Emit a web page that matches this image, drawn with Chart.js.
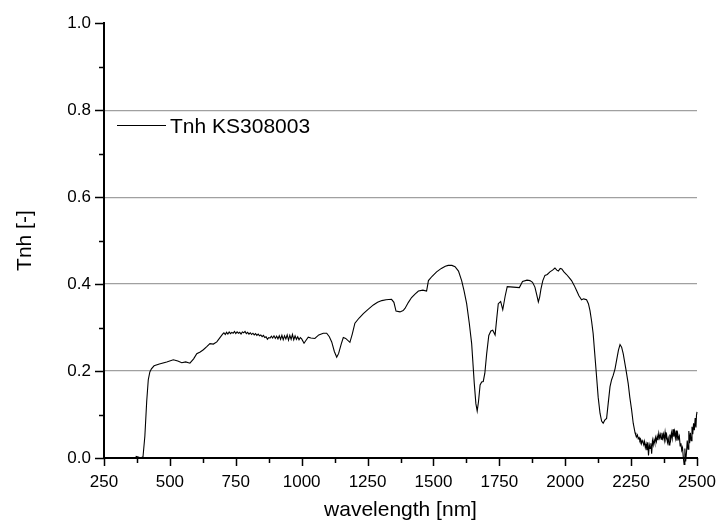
<!DOCTYPE html>
<html>
<head>
<meta charset="utf-8">
<script src="https://cdn.jsdelivr.net/npm/chart.js@4.4.0/dist/chart.umd.min.js"></script>
<style>
  body { margin: 0; background: #fff; }
  #wrap { width: 717px; height: 526px; }
</style>
</head>
<body>
<div id="wrap"><canvas id="tnhChart"></canvas></div>
<script>
// wavelength [nm]
const wavelengths = [
  370, 380, 390, 398, 405, 412, 418, 424, 430, 440, 460, 488, 513, 530, 545, 560, 576, 590,
  602, 615, 627, 640, 652, 665, 678, 690,
  700, 705, 710, 715, 720, 725, 730, 735, 740, 745, 750, 755, 760, 765, 770, 775, 780, 785,
  790, 795, 800, 805, 810, 815, 820, 825, 830, 835, 840, 845, 850, 855, 860, 865, 870, 875,
  880, 885, 890, 895, 900, 905, 910, 915, 920, 925, 930, 935, 940, 945, 950, 955, 960, 965,
  970, 975, 980, 985, 990, 995, 1000,
  1009, 1018, 1025, 1035, 1050, 1065, 1082, 1095, 1105, 1114, 1124, 1133, 1140, 1150, 1158,
  1167, 1183, 1192, 1202, 1218, 1234, 1252, 1272, 1288, 1304, 1320, 1341, 1350, 1358, 1373,
  1385, 1392, 1405, 1417, 1430, 1443, 1460, 1474, 1481, 1495, 1512, 1530, 1545, 1556, 1570,
  1582, 1595, 1607, 1616, 1626, 1636, 1645, 1655, 1661, 1666, 1671, 1677, 1683, 1689, 1695,
  1702, 1710, 1718, 1725, 1734, 1740, 1746, 1755, 1763, 1772, 1780, 1803, 1826, 1838, 1855,
  1866, 1876, 1885, 1892, 1898, 1903, 1908, 1915, 1923, 1932, 1942, 1952, 1961, 1968, 1974,
  1981, 1987, 1995, 2005, 2015, 2024, 2034, 2043, 2052, 2062, 2070, 2081, 2088, 2094, 2100,
  2106, 2112, 2119, 2125, 2132, 2138, 2144, 2150, 2157, 2163, 2170, 2176, 2182, 2189, 2195,
  2202, 2208, 2214, 2220, 2230, 2239, 2245, 2252, 2258,
  2265, 2268, 2271, 2274, 2277, 2280, 2283, 2286, 2289, 2292, 2295, 2298, 2301, 2304, 2307,
  2310, 2313, 2316, 2319, 2322, 2325, 2328, 2331, 2334, 2337, 2340, 2343, 2346, 2349, 2352,
  2355, 2358, 2361, 2364, 2367, 2370, 2373, 2376, 2379, 2382, 2385, 2388, 2391, 2394, 2397,
  2400, 2403, 2406, 2409, 2412, 2415, 2418, 2421, 2424, 2427, 2430, 2433, 2436, 2439, 2442,
  2445, 2448, 2451, 2454, 2457, 2460, 2463, 2466, 2469, 2472, 2475, 2478, 2481, 2484, 2487,
  2490, 2493, 2496, 2498, 2500
];

// Tnh KS308003
const tnh = [
  0.004, 0.002, 0.000, 0.003, 0.050, 0.130, 0.180, 0.198, 0.205, 0.212, 0.216, 0.221, 0.226, 0.223, 0.219, 0.221, 0.218, 0.228,
  0.240, 0.244, 0.249, 0.256, 0.263, 0.262, 0.267, 0.277,
  0.285, 0.288, 0.284, 0.289, 0.285, 0.290, 0.286, 0.289, 0.287, 0.291, 0.286, 0.290, 0.287, 0.289, 0.285, 0.290, 0.288, 0.291,
  0.286, 0.289, 0.285, 0.288, 0.284, 0.287, 0.283, 0.286, 0.282, 0.285, 0.281, 0.283, 0.279, 0.282, 0.277, 0.279, 0.273, 0.277,
  0.276, 0.280, 0.276, 0.281, 0.275, 0.280, 0.274, 0.281, 0.273, 0.282, 0.272, 0.281, 0.274, 0.283, 0.271, 0.282, 0.273, 0.284,
  0.272, 0.281, 0.273, 0.279, 0.272, 0.277, 0.274,
  0.264, 0.272, 0.278, 0.276, 0.275, 0.283, 0.287, 0.287, 0.279, 0.267, 0.245, 0.232, 0.240, 0.262, 0.277,
  0.275, 0.266, 0.285, 0.310, 0.322, 0.332, 0.342, 0.352, 0.358, 0.362, 0.364, 0.365, 0.358, 0.338, 0.336,
  0.339, 0.344, 0.358, 0.369, 0.377, 0.384, 0.386, 0.384, 0.408, 0.418, 0.428, 0.436, 0.441, 0.443, 0.443,
  0.440, 0.430, 0.408, 0.385, 0.355, 0.310, 0.263, 0.171, 0.125, 0.108, 0.130, 0.168, 0.175, 0.176, 0.195,
  0.240, 0.282, 0.292, 0.294, 0.283, 0.320, 0.355, 0.360, 0.341, 0.372, 0.394, 0.393, 0.392, 0.406, 0.409,
  0.408, 0.404, 0.393, 0.375, 0.359, 0.370, 0.389, 0.408, 0.420, 0.422, 0.428, 0.432, 0.437, 0.432, 0.430,
  0.436, 0.435, 0.428, 0.422, 0.415, 0.408, 0.397, 0.385, 0.373, 0.364, 0.366, 0.364, 0.355, 0.339, 0.315,
  0.286, 0.240, 0.187, 0.140, 0.103, 0.085, 0.080, 0.087, 0.091, 0.125, 0.164, 0.180, 0.190, 0.205, 0.225,
  0.248, 0.261, 0.255, 0.240, 0.205, 0.171, 0.140, 0.110, 0.080,
  0.058, 0.052, 0.049, 0.053, 0.044, 0.047, 0.040, 0.043, 0.033, 0.040, 0.036, 0.030, 0.038, 0.024, 0.032,
  0.018, 0.036, 0.006, 0.030, 0.022, 0.034, 0.010, 0.040, 0.030, 0.042, 0.034, 0.047, 0.038, 0.050, 0.041,
  0.057, 0.046, 0.054, 0.043, 0.058, 0.046, 0.055, 0.041, 0.059, 0.044, 0.052, 0.036, 0.045, 0.030, 0.054,
  0.042, 0.058, 0.045, 0.066, 0.049, 0.061, 0.046, 0.063, 0.040, 0.055, 0.044, 0.050, 0.028, 0.034, 0.018,
  0.024, 0.002, -0.015, 0.022, -0.008, 0.012, 0.040, 0.020, 0.062, 0.034, 0.058, 0.040, 0.072, 0.055, 0.080,
  0.064, 0.092, 0.070, 0.098, 0.106
];

const xTickLabels = [250, 500, 750, 1000, 1250, 1500, 1750, 2000, 2250, 2500];
const yTickLabels = ["0.0", "0.2", "0.4", "0.6", "0.8", "1.0"];
const yGridValues = [0.2, 0.4, 0.6, 0.8];

const FONT = "'Liberation Sans', Arial, sans-serif";
Chart.defaults.font.family = FONT;
Chart.defaults.color = "#000";

const near = (v, list) => list.some(a => Math.abs(a - v) < 1e-6);

// outward ticks, long ones at labels and short ones between
const axisTicks = {
  id: "axisTicks",
  afterDraw(chart) {
    const { ctx, scales: { x, y } } = chart;
    ctx.save();
    ctx.strokeStyle = "#000";
    ctx.lineWidth = 1.5;
    ctx.beginPath();
    y.ticks.forEach(t => {
      const py = Math.round(y.getPixelForValue(t.value)) + 0.5;
      const major = near(t.value, yTickLabels.map(Number));
      ctx.moveTo(x.left, py);
      ctx.lineTo(x.left - (major ? 9 : 5), py);
    });
    x.ticks.forEach(t => {
      const px = Math.round(x.getPixelForValue(t.value)) + 0.5;
      const major = near(t.value, xTickLabels);
      ctx.moveTo(px, y.bottom);
      ctx.lineTo(px, y.bottom + (major ? 8 : 5));
    });
    ctx.stroke();
    ctx.restore();
  }
};

// legend inside the plot, upper left
const innerLegend = {
  id: "innerLegend",
  afterDraw(chart) {
    const { ctx } = chart;
    const ds = chart.data.datasets[0];
    ctx.save();
    ctx.strokeStyle = ds.borderColor;
    ctx.lineWidth = 1;
    ctx.beginPath();
    ctx.moveTo(117, 125.5);
    ctx.lineTo(166, 125.5);
    ctx.stroke();
    ctx.fillStyle = "#000";
    ctx.font = "21px " + FONT;
    ctx.textBaseline = "alphabetic";
    ctx.fillText(ds.label, 170, 132.5);
    ctx.restore();
  }
};

new Chart(document.getElementById("tnhChart"), {
  type: "line",
  data: {
    datasets: [{
      label: "Tnh KS308003",
      data: wavelengths.map((w, i) => ({ x: w, y: tnh[i] })),
      borderColor: "#000",
      borderWidth: 1.1,
      pointRadius: 0,
      tension: 0,
      fill: false,
      clip: 8
    }]
  },
  options: {
    responsive: true,
    maintainAspectRatio: false,
    animation: false,
    layout: { padding: { top: 22, right: 20, left: 0, bottom: 0 } },
    plugins: {
      legend: { display: false },
      tooltip: { enabled: false }
    },
    scales: {
      x: {
        type: "linear",
        min: 250,
        max: 2500,
        afterFit(scale) {
          scale.height = 68;
          scale.paddingLeft = 0;
          scale.paddingRight = 0;
        },
        ticks: {
          stepSize: 125,
          autoSkip: false,
          maxRotation: 0,
          padding: 14,
          font: { size: 17 },
          callback: v => (near(v, xTickLabels) ? String(v) : "")
        },
        grid: { display: false, drawTicks: false },
        border: { display: true, color: "#000", width: 2 },
        title: {
          display: true,
          text: "wavelength [nm]",
          font: { size: 21 },
          padding: { top: 0, bottom: 3 }
        }
      },
      y: {
        min: 0,
        max: 1,
        afterFit(scale) { scale.width = 104; },
        ticks: {
          stepSize: 0.1,
          autoSkip: false,
          padding: 13,
          font: { size: 17 },
          callback: v => {
            const s = v.toFixed(1);
            return yTickLabels.includes(s) ? s : "";
          }
        },
        grid: {
          drawTicks: false,
          lineWidth: 1.2,
          color: c => (near(c.tick.value, yGridValues) ? "#a0a0a0" : "rgba(0,0,0,0)")
        },
        border: { display: true, color: "#000", width: 2 },
        title: {
          display: true,
          text: "Tnh [-]",
          font: { size: 21 },
          padding: { top: 13, bottom: 0 }
        }
      }
    }
  },
  plugins: [axisTicks, innerLegend]
});
</script>
</body>
</html>
